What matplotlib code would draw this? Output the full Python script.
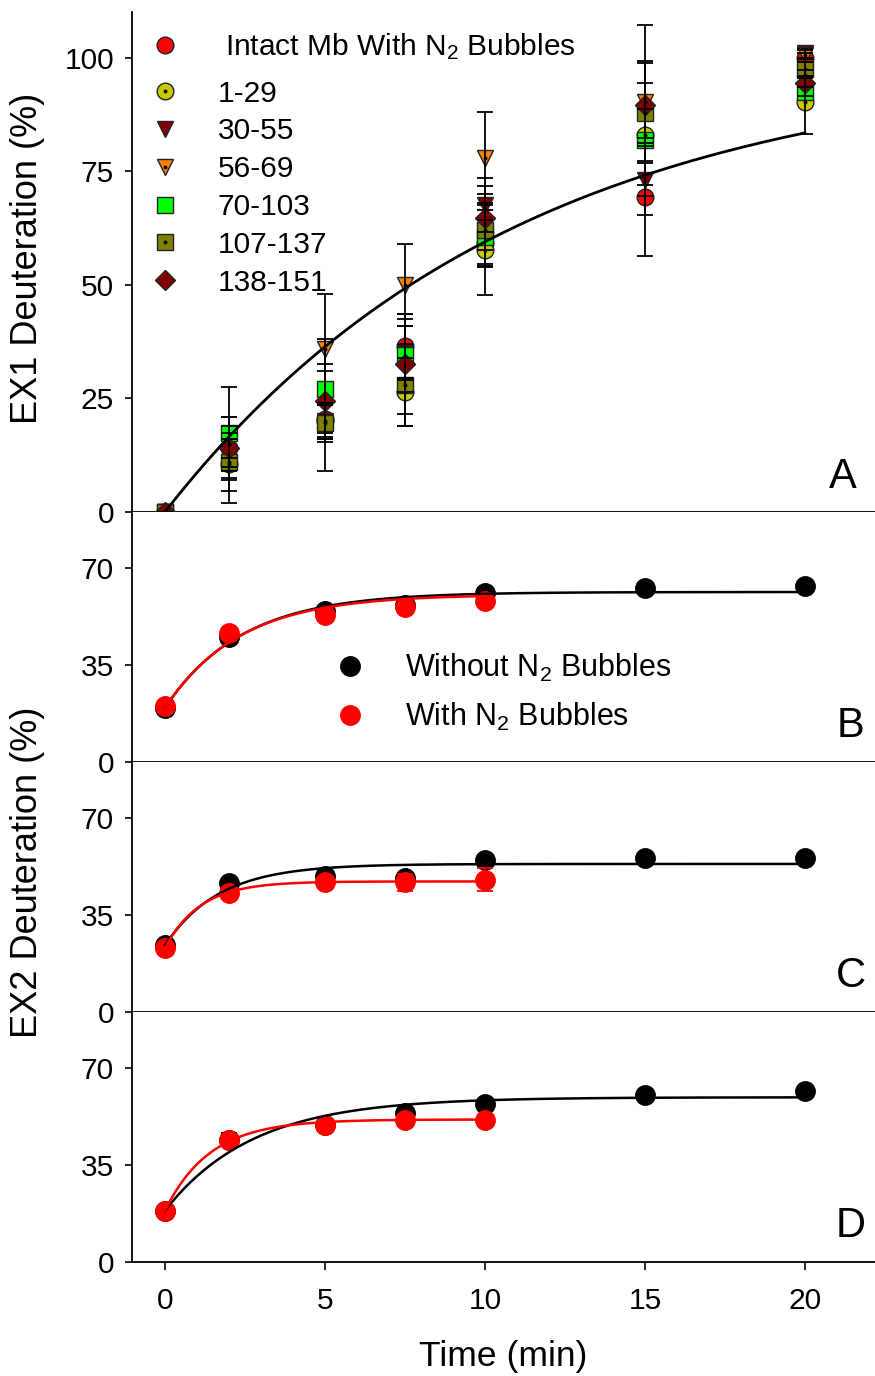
import matplotlib
matplotlib.use("Agg")
import matplotlib.pyplot as plt
import numpy as np

plt.rcParams['font.family'] = ['Liberation Sans', 'DejaVu Sans']
plt.rcParams['mathtext.fontset'] = 'custom'
plt.rcParams['mathtext.rm'] = 'Liberation Sans'
plt.rcParams['mathtext.default'] = 'regular'

# ---- data ----
times = [0, 2, 5, 7.5, 10, 15, 20]
times_red = [0, 2, 5, 7.5, 10]

# panel A: peptide series (label, marker, face colour, centre dot, size)
a_labels = ["Intact Mb With N$_2$ Bubbles", "1-29", "30-55", "56-69",
            "70-103", "107-137", "138-151"]
a_values = [
    [0, 14.0, 20.5, 36.5, 59.2, 69.4, 100.0],
    [0, 10.5, 20.0, 26.5, 57.7, 83.0, 90.3],
    [0, 13.0, 20.0, 35.0, 67.6, 73.0, 101.0],
    [0, 15.0, 36.0, 50.0, 78.0, 90.3, 100.7],
    [0, 17.5, 27.0, 34.5, 60.5, 82.0, 92.5],
    [0, 11.0, 19.5, 28.0, 62.0, 87.9, 97.6],
    [0, 14.0, 24.5, 32.5, 64.7, 89.6, 94.5],
]
a_errors = [
    [0, 2.0, 3.0, 7.0, 5.0, 13.0, 1.0],
    [0, 8.5, 11.0, 7.5, 10.0, 5.7, 7.0],
    [0, 3.0, 4.0, 6.0, 6.0, 7.6, 1.0],
    [0, 6.0, 12.0, 9.0, 10.0, 9.0, 1.0],
    [0, 10.0, 11.0, 8.0, 6.0, 12.5, 1.0],
    [0, 6.4, 4.0, 9.0, 8.0, 11.0, 1.5],
    [0, 7.0, 8.0, 11.0, 7.0, 17.7, 1.0],
]
a_markers = ['o', 'o', 'v', 'v', 's', 's', 'D']
a_colors = ['#FF0000', '#C8C800', '#800000', '#FF8000', '#00FF00', '#808000', '#800000']
a_dots = [False, True, False, True, False, True, False]
a_sizes = [12, 12, 12, 12, 11, 11, 10]
a_fit = (99.7, 0.0908)  # amplitude, rate

# panels B-D: without (black) / with (red) N2 bubbles
b_black = [19.5, 45.0, 54.3, 56.4, 60.7, 62.5, 63.2]
b_black_err = [0.5, 2.0, 1.0, 1.0, 1.0, 1.0, 1.0]
b_red = [20.0, 46.4, 52.9, 55.7, 57.9]
b_red_err = [1.0, 1.0, 1.0, 1.0, 1.0]
c_black = [24.0, 46.3, 48.8, 48.1, 54.6, 55.6, 55.6]
c_black_err = [1.0, 1.0, 1.0, 1.0, 1.0, 1.0, 1.0]
c_red = [23.0, 42.7, 46.7, 46.7, 47.7]
c_red_err = [2.0, 1.5, 1.5, 3.0, 4.0]
d_black = [18.5, 44.0, 49.5, 53.5, 57.0, 60.3, 61.7]
d_black_err = [0.5, 2.3, 1.0, 1.0, 1.0, 1.0, 1.0]
d_red = [18.3, 43.8, 49.5, 51.3, 51.3]
d_red_err = [0.5, 1.0, 1.0, 1.5, 1.5]

# fitted curves: (start, plateau, rate)
b_fits = [(19.5, 61.2, 0.415), (19.5, 60.3, 0.43)]
c_fits = [(24.0, 53.3, 0.594), (23.0, 47.0, 0.909)]
d_fits = [(18.5, 59.3, 0.362), (18.5, 51.3, 0.711)]

W, H = 875, 1376
fig = plt.figure(figsize=(W / 100, H / 100), dpi=100)

left = 132 / W
width = 1 - left
xlim = (-1.03, 22.19)


def make_ax(top_px, bot_px):
    ax = fig.add_axes([left, 1 - bot_px / H, width, (bot_px - top_px) / H])
    ax.spines['top'].set_visible(False)
    ax.spines['right'].set_visible(False)
    ax.spines['left'].set_linewidth(1.3)
    ax.spines['bottom'].set_linewidth(1.3)
    ax.set_xlim(*xlim)
    ax.tick_params(axis='y', direction='out', length=5, width=1.2, labelsize=21.5, pad=8)
    return ax


axA = make_ax(12, 512)
axB = make_ax(512, 762)
axC = make_ax(762, 1012)
axD = make_ax(1012, 1262)

# ---- panel A ----
handles = []
for vals, errs, m, c, dot, ms, lab in zip(a_values, a_errors, a_markers, a_colors,
                                         a_dots, a_sizes, a_labels):
    ln, = axA.plot(times, vals, linestyle='none', marker=m, markersize=ms,
                   markerfacecolor=c, markeredgecolor='#222222', markeredgewidth=1.0,
                   zorder=3)
    axA.errorbar(times, vals, yerr=errs, fmt='none', ecolor='black', elinewidth=1.3,
                 capsize=6, capthick=1.3, zorder=4)
    if dot:
        d, = axA.plot(times, vals, linestyle='none', marker='o', markersize=1.8,
                      color='black', zorder=3.5)
        handles.append(((ln, d), lab))
    else:
        handles.append((ln, lab))

tt = np.linspace(0, 20, 200)
axA.plot(tt, a_fit[0] * (1 - np.exp(-a_fit[1] * tt)), color='black', lw=2.0, zorder=5)
axA.set_ylim(0, 110.1)
axA.set_yticks([0, 25, 50, 75, 100])
axA.set_xticks([])

leg_kw = dict(loc='upper left', frameon=False, fontsize=21.5, handlelength=1.0,
              labelspacing=0.33, borderpad=0, borderaxespad=0)
leg1 = axA.legend([handles[0][0]], [handles[0][1]], bbox_to_anchor=(0.0242, 0.962),
                  handletextpad=1.5, **leg_kw)
axA.add_artist(leg1)
axA.legend([h for h, _ in handles[1:]], [l for _, l in handles[1:]],
           bbox_to_anchor=(0.0242, 0.865), handletextpad=1.27, **leg_kw)

# ---- panels B-D ----
panels = [(axB, b_black, b_black_err, b_red, b_red_err, b_fits, 'B'),
          (axC, c_black, c_black_err, c_red, c_red_err, c_fits, 'C'),
          (axD, d_black, d_black_err, d_red, d_red_err, d_fits, 'D')]

for ax, bk, bke, rd, rde, fits, letter in panels:
    ax.errorbar(times, bk, yerr=bke, fmt='none', ecolor='black', elinewidth=1.3,
                capsize=6, capthick=1.3, zorder=2)
    hb, = ax.plot(times, bk, linestyle='none', marker='o', markersize=14,
                  color='black', zorder=3, label='Without N$_2$ Bubbles')
    ax.errorbar(times_red, rd, yerr=rde, fmt='none', ecolor='red', elinewidth=1.3,
                capsize=6, capthick=1.3, zorder=4)
    hr, = ax.plot(times_red, rd, linestyle='none', marker='o', markersize=14,
                  color='red', zorder=5, label='With N$_2$ Bubbles')
    y0, p, k = fits[0]
    t1 = np.linspace(0, 20, 200)
    ax.plot(t1, y0 + (p - y0) * (1 - np.exp(-k * t1)), color='black', lw=1.8, zorder=6)
    y0, p, k = fits[1]
    t2 = np.linspace(0, 10, 120)
    ax.plot(t2, y0 + (p - y0) * (1 - np.exp(-k * t2)), color='red', lw=1.8, zorder=6)
    ax.set_ylim(0, 90)
    ax.set_yticks([0, 35, 70])
    ax.text(0.967, 0.1, letter, transform=ax.transAxes, ha='center', va='baseline',
            fontsize=30)
    if ax is axB:
        ax.legend(handles=[hb, hr], loc='upper left', bbox_to_anchor=(0.2728, 0.44),
                  frameon=False, fontsize=22, handlelength=1.0, handletextpad=1.3,
                  labelspacing=0.54, borderpad=0, borderaxespad=0)

axA.text(0.957, 0.048, 'A', transform=axA.transAxes, ha='center', va='baseline',
         fontsize=30)

for ax in (axA, axB, axC):
    ax.set_xticks([])
axD.set_xticks([0, 5, 10, 15, 20])
axD.tick_params(axis='x', direction='out', length=6, width=1.2, labelsize=21.5, pad=12)
axD.set_xlabel('Time (min)', fontsize=25.5, labelpad=18)

fig.text(28 / W, 1 - 258 / H, 'EX1 Deuteration (%)', rotation=90, ha='center',
         va='center', fontsize=26)
fig.text(28 / W, 1 - 872 / H, 'EX2 Deuteration (%)', rotation=90, ha='center',
         va='center', fontsize=26)

fig.savefig('out.png', dpi=100)
